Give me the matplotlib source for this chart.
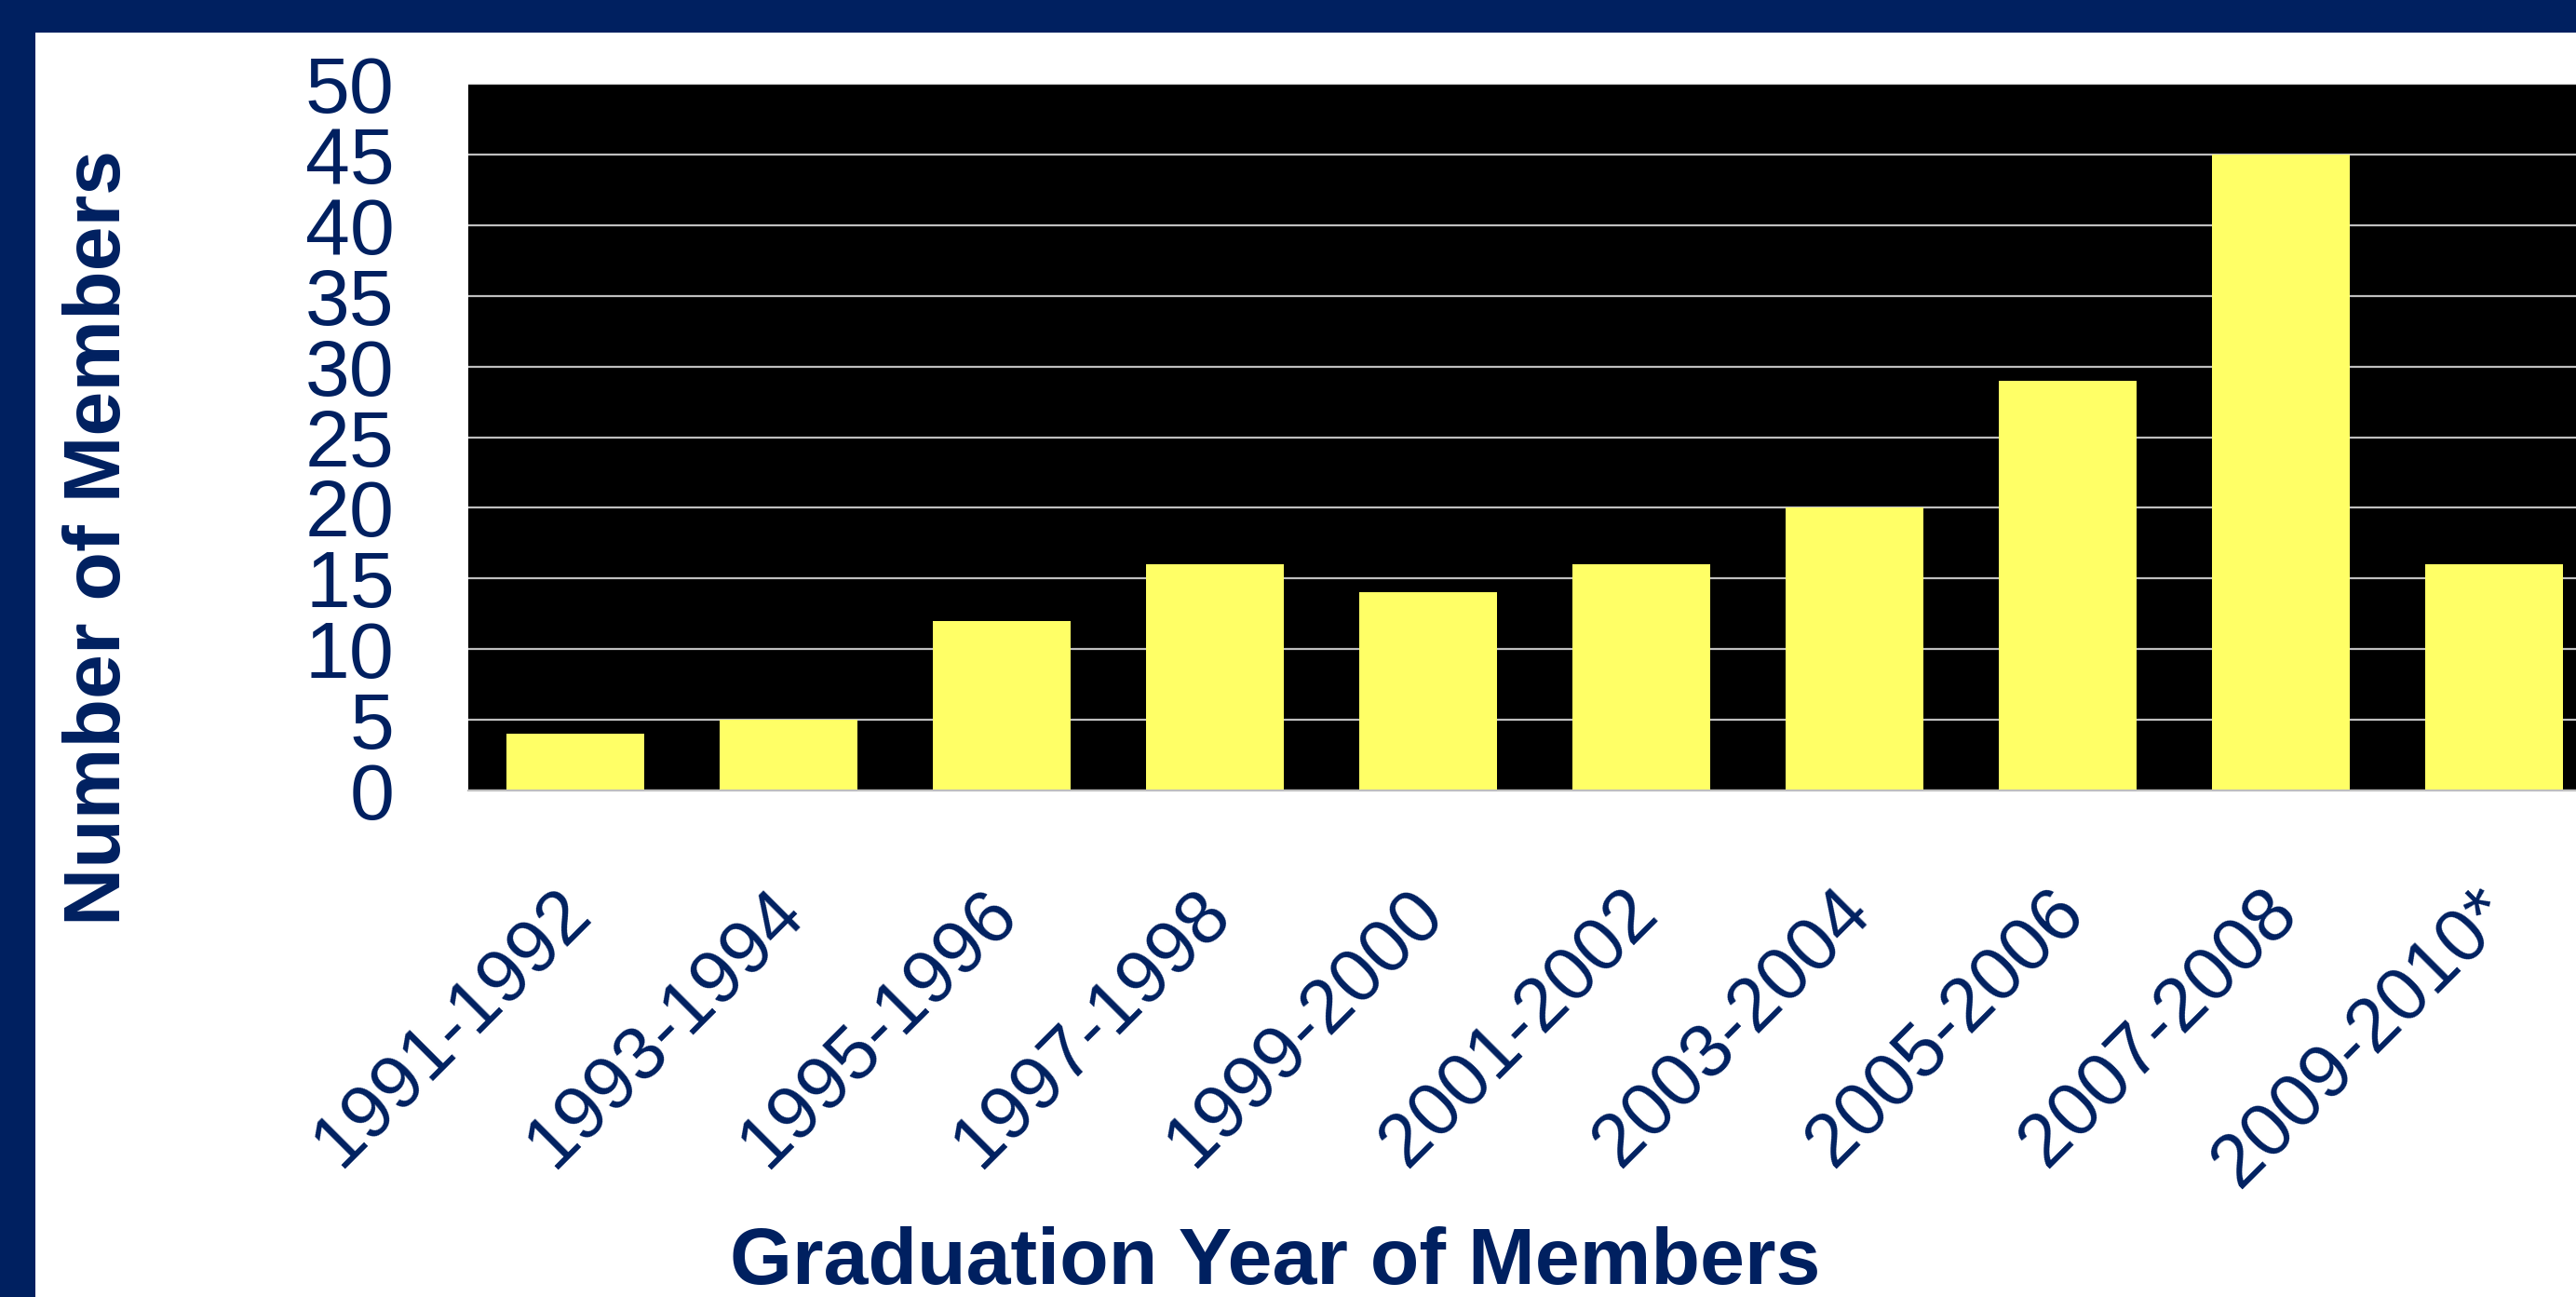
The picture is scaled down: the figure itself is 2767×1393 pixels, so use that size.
import matplotlib
matplotlib.use("Agg")
import matplotlib.pyplot as plt
from matplotlib.patches import Rectangle
from matplotlib.transforms import ScaledTranslation

# data
years = ["1991-1992", "1993-1994", "1995-1996", "1997-1998", "1999-2000",
         "2001-2002", "2003-2004", "2005-2006", "2007-2008", "2009-2010*"]
members = [4, 5, 12, 16, 14, 16, 20, 29, 45, 16]
yticks = [0, 5, 10, 15, 20, 25, 30, 35, 40, 45, 50]

NAVY = "#002060"
YELLOW = "#FFFF66"
GRID = "#BFBFBF"
FS = 62

plt.rcParams["font.family"] = ["Liberation Sans", "DejaVu Sans"]

W, H = 2767, 1393
fig = plt.figure(figsize=(W / 100, H / 100), dpi=100, facecolor="white")

# navy frame of the slide (top band and left band)
fig.patches.append(Rectangle((0, 1 - 35 / H), 1, 35 / H, transform=fig.transFigure,
                             facecolor=NAVY, edgecolor="none", zorder=0))
fig.patches.append(Rectangle((0, 0), 38 / W, 1, transform=fig.transFigure,
                             facecolor=NAVY, edgecolor="none", zorder=0))

# plot area runs off the right edge of the picture
x0, x1, ytop, ybot = 503, 2794, 90, 849
ax = fig.add_axes([x0 / W, 1 - ybot / H, (x1 - x0) / W, (ybot - ytop) / H])
ax.set_facecolor("black")

xs = list(range(len(years)))
ax.bar(xs, members, width=0.646, color=YELLOW, edgecolor="none", zorder=3)

ax.set_xlim(-0.5, len(years) - 0.5)
ax.set_ylim(0, 50)
ax.set_yticks(yticks)
ax.yaxis.grid(True, color=GRID, linewidth=1.6)
ax.set_axisbelow(True)

for side in ["left", "right", "top"]:
    ax.spines[side].set_visible(False)
ax.spines["bottom"].set_color(GRID)
ax.spines["bottom"].set_linewidth(1.6)
ax.spines["bottom"].set_zorder(4)

ax.tick_params(axis="y", length=0, pad=57, labelsize=FS, labelcolor=NAVY)
ax.tick_params(axis="x", length=0, pad=86, labelsize=58, labelcolor=NAVY)
ax.set_xticks(xs)
ax.set_xticklabels(years, rotation=45, ha="right", va="center",
                   rotation_mode="anchor")
# small nudge of the rotated labels to the right
shift = ScaledTranslation(0.05, 0, fig.dpi_scale_trans)
for lab in ax.get_xticklabels():
    lab.set_transform(lab.get_transform() + shift)

fig.text(1370 / W, 1 - 1379 / H, "Graduation Year of Members", fontsize=FS,
         fontweight="bold", color=NAVY, ha="center", va="baseline")
fig.text(129 / W, 1 - 578 / H, "Number of Members", fontsize=FS,
         fontweight="bold", color=NAVY, ha="center", va="baseline",
         rotation=90, rotation_mode="anchor")

fig.savefig("out.png", dpi=100, facecolor="white")
